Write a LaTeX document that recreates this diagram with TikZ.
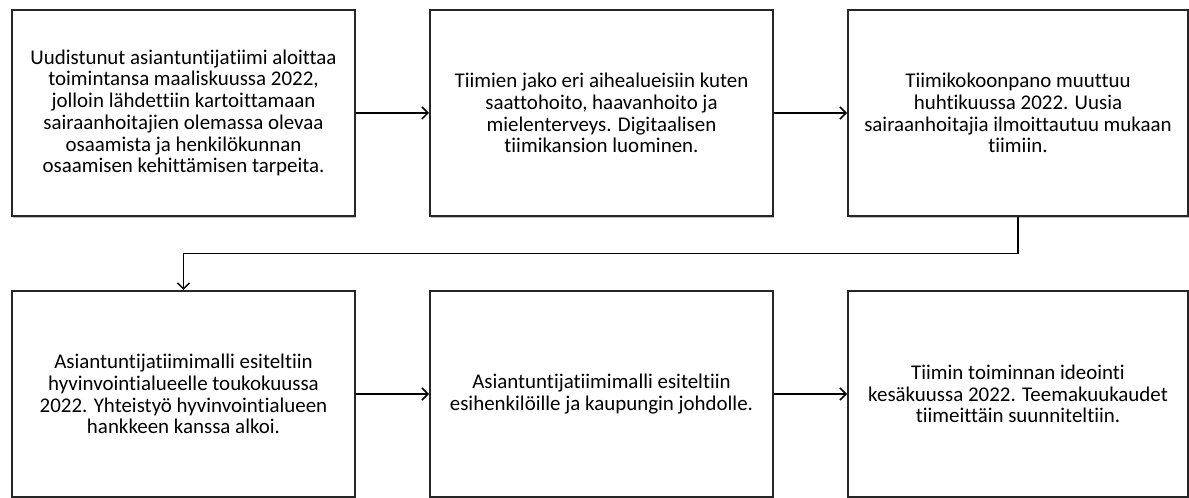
\documentclass[tikz,border=0pt]{standalone}
\usepackage{fontspec}
\setmainfont[Ligatures=NoCommon]{Carlito}
\usetikzlibrary{arrows.meta,calc,shadows}

\begin{document}
\begin{tikzpicture}[x=0.75pt,y=-0.75pt,
    box/.style={draw=black!85, line width=1.5pt, fill=white, align=center,
      minimum width=257.25pt, minimum height=154.5pt, inner sep=0pt,
      font=\fontsize{15.7pt}{16.3pt}\selectfont,
      drop shadow={shadow xshift=0.8pt, shadow yshift=-1.2pt, opacity=0.25, fill=black}},
    arr/.style={line width=1.1pt, -{Straight Barb[length=4.5pt,width=9pt,line width=1.1pt]}}]
  \useasboundingbox (0,0) rectangle (1189,498);
  % top row
  \node[box] (t1) at (183.5,113) {Uudistunut asiantuntijatiimi aloittaa\\
    toimintansa maaliskuussa 2022,\\
    jolloin lähdettiin kartoittamaan\\
    sairaanhoitajien olemassa olevaa\\
    osaamista ja henkilökunnan\\
    osaamisen kehittämisen tarpeita.};
  \node[box] (t2) at (601.5,113) {Tiimien jako eri aihealueisiin kuten\\
    saattohoito, haavanhoito ja\\
    mielenterveys. Digitaalisen\\
    tiimikansion luominen.};
  \node[box, minimum width=255pt] (t3) at (1018,113) {Tiimikokoonpano muuttuu\\
    huhtikuussa 2022. Uusia\\
    sairaanhoitajia ilmoittautuu mukaan\\
    tiimiin.};
  % bottom row
  \node[box] (b1) at (183.5,394) {Asiantuntijatiimimalli esiteltiin\\
    hyvinvointialueelle toukokuussa\\
    2022. Yhteistyö hyvinvointialueen\\
    hankkeen kanssa alkoi.};
  \node[box] (b2) at (601.5,394) {Asiantuntijatiimimalli esiteltiin\\
    esihenkilöille ja kaupungin johdolle.};
  \node[box, minimum width=255pt] (b3) at (1018,394) {Tiimin toiminnan ideointi\\
    kesäkuussa 2022. Teemakuukaudet\\
    tiimeittäin suunniteltiin.};
  % connectors
  \draw[arr] (t1) -- (t2);
  \draw[arr] (t2) -- (t3);
  \coordinate (mid) at ($(t3.south)!0.5!(t3.south |- b1.north)$);
  \draw[arr] (t3.south) -- (mid) -| (b1.north);
  \draw[arr] (b1) -- (b2);
  \draw[arr] (b2) -- (b3);
\end{tikzpicture}
\end{document}
